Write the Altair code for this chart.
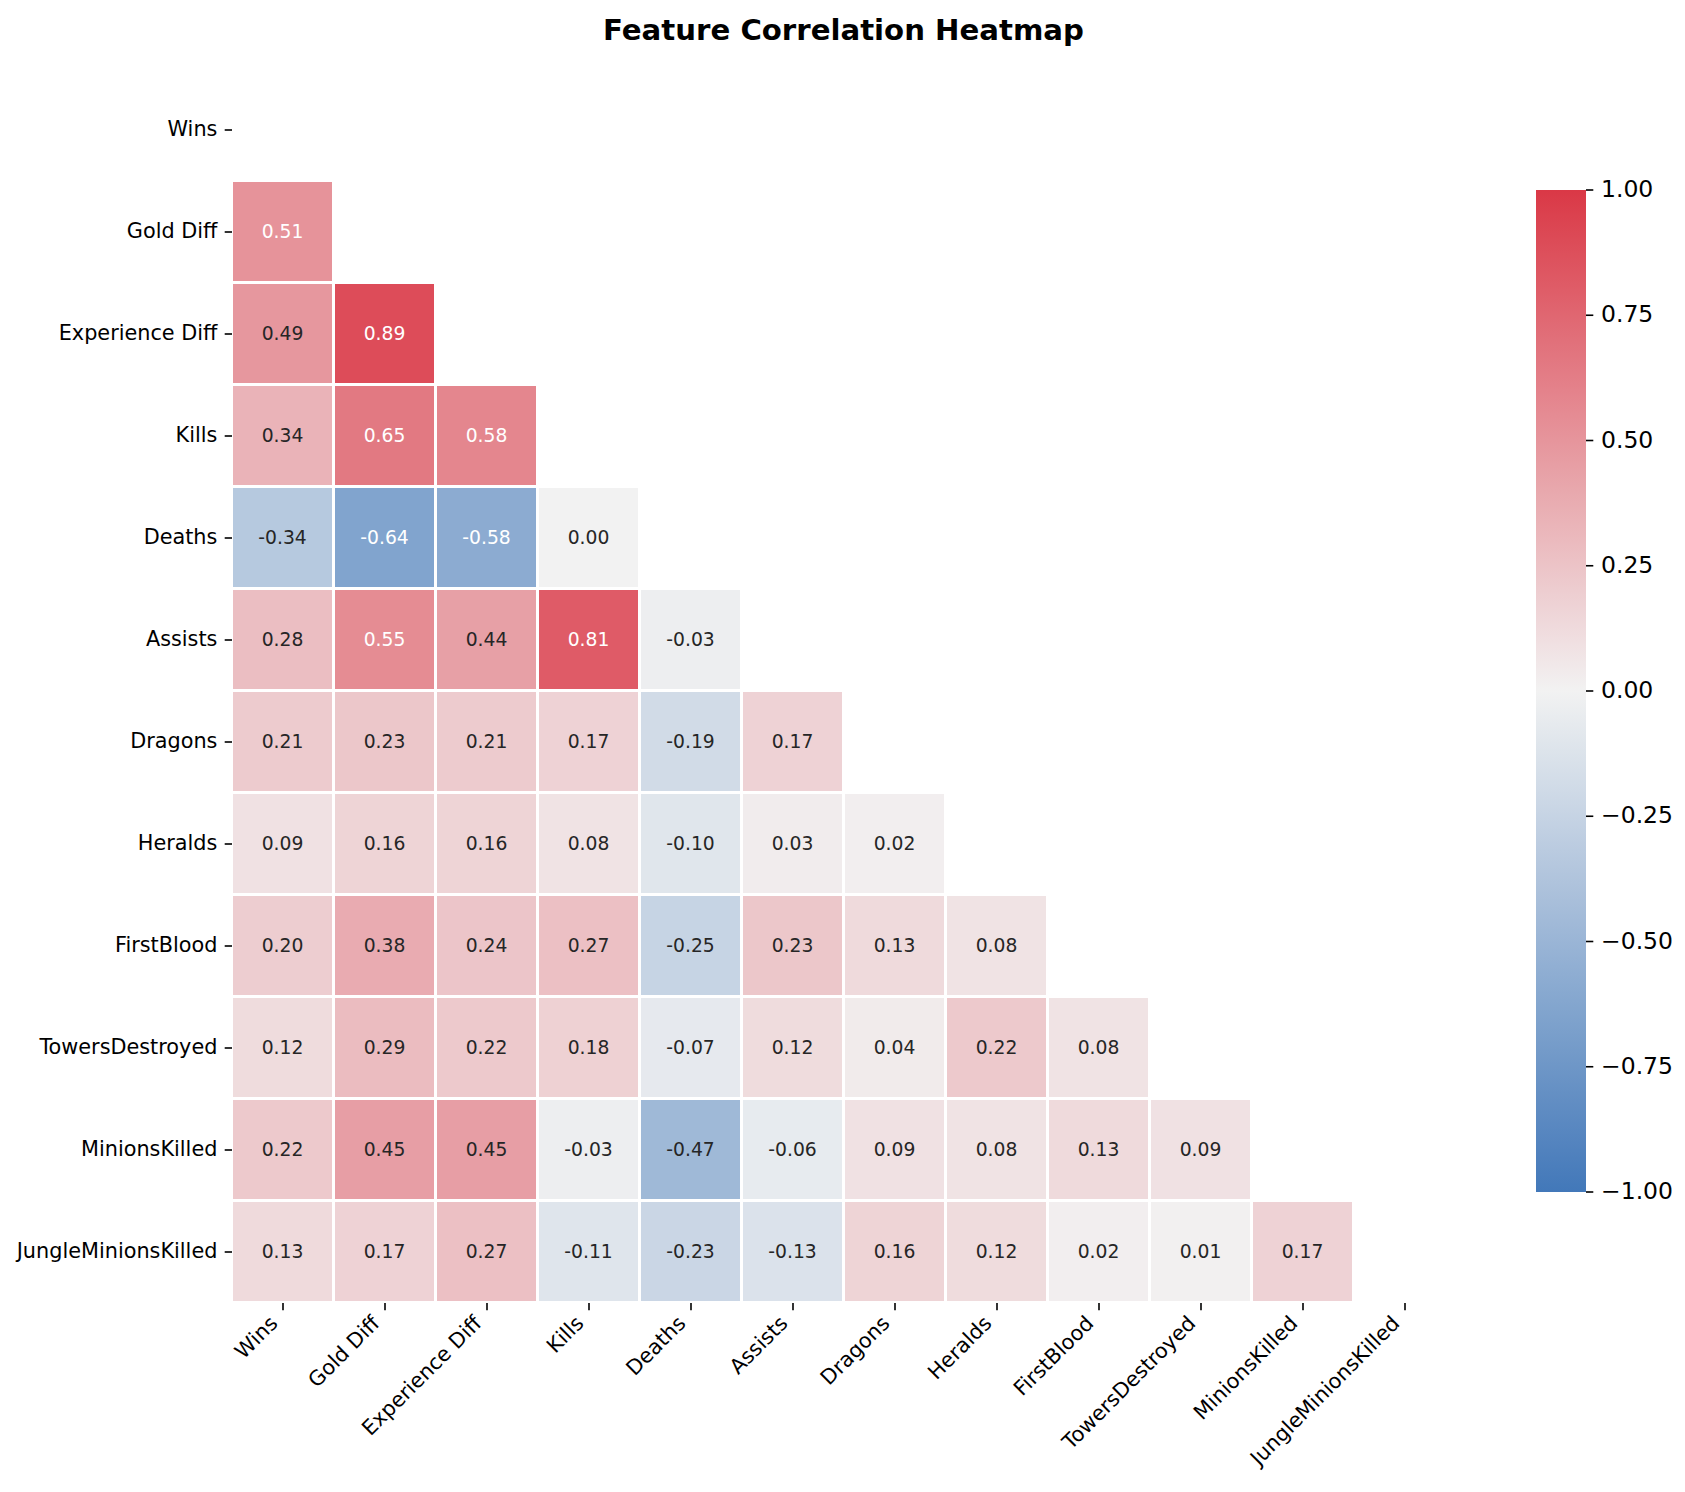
import altair as alt
import pandas as pd

features = ["Wins", "Gold Diff", "Experience Diff", "Kills", "Deaths", "Assists",
            "Dragons", "Heralds", "FirstBlood", "TowersDestroyed", "MinionsKilled",
            "JungleMinionsKilled"]

# lower-triangle correlations, one list per row (values for columns left of the diagonal)
wins_row = []
gold_diff_row = [0.51]
experience_diff_row = [0.49, 0.89]
kills_row = [0.34, 0.65, 0.58]
deaths_row = [-0.34, -0.64, -0.58, 0.00]
assists_row = [0.28, 0.55, 0.44, 0.81, -0.03]
dragons_row = [0.21, 0.23, 0.21, 0.17, -0.19, 0.17]
heralds_row = [0.09, 0.16, 0.16, 0.08, -0.10, 0.03, 0.02]
firstblood_row = [0.20, 0.38, 0.24, 0.27, -0.25, 0.23, 0.13, 0.08]
towers_row = [0.12, 0.29, 0.22, 0.18, -0.07, 0.12, 0.04, 0.22, 0.08]
minions_row = [0.22, 0.45, 0.45, -0.03, -0.47, -0.06, 0.09, 0.08, 0.13, 0.09]
jungle_row = [0.13, 0.17, 0.27, -0.11, -0.23, -0.13, 0.16, 0.12, 0.02, 0.01, 0.17]

rows = [wins_row, gold_diff_row, experience_diff_row, kills_row, deaths_row, assists_row,
        dragons_row, heralds_row, firstblood_row, towers_row, minions_row, jungle_row]

# colorbar tick values
colorbar_ticks = [-1.0, -0.75, -0.5, -0.25, 0.0, 0.25, 0.5, 0.75, 1.0]
# legend label values (ends nudged a hair inside so labels stay centred on the ends)
legend_values = [-0.9999, -0.75, -0.5, -0.25, 0.0, 0.25, 0.5, 0.75, 0.9999]

records = []
for i, rname in enumerate(features):
    for j, v in enumerate(rows[i]):
        records.append({"row": rname, "col": features[j], "value": v, "label": f"{v:.2f}"})
df = pd.DataFrame(records)
ticks_df = pd.DataFrame({"cbtick": colorbar_ticks})

FONT = "DejaVu Sans"
W = 1224
PAD_L, PAD_T = 231.5, 78.5
CB_TOP, CB_BOTTOM, CB_LEFT, CB_RIGHT = 190 - PAD_T, 1192 - PAD_T, 1536 - PAD_L, 1586 - PAD_L

band = dict(domain=features, paddingInner=0, paddingOuter=0)

x_axis = alt.Axis(labelAngle=-45, labelAlign="right", labelBaseline="top",
                  labelOffset=-15, labelPadding=3, tickSize=7.3, tickWidth=1.6,
                  tickColor="black", domain=False, grid=False, labelFont=FONT,
                  labelFontSize=20.8, labelColor="black", labelOverlap=False,
                  labelLimit=0, title=None)
y_axis = alt.Axis(labelPadding=7.3, tickSize=7.3, tickWidth=1.6, tickColor="black",
                  domain=False, grid=False, labelFont=FONT, labelFontSize=20.8,
                  labelColor="black", labelOverlap=False, labelLimit=0, title=None,
                  labelBaseline="middle", orient="left")

base = alt.Chart(df).encode(
    x=alt.X("col:N", scale=alt.Scale(**band), axis=x_axis),
    y=alt.Y("row:N", scale=alt.Scale(**band), axis=y_axis),
)

rect = base.mark_rect(stroke="white", strokeWidth=3).encode(
    color=alt.Color(
        "value:Q",
        scale=alt.Scale(domain=[-1, 0, 1], range=["#4278b9", "#f2f2f2", "#da3846"],
                        interpolate="rgb"),
        legend=alt.Legend(orient="none", legendX=CB_LEFT, legendY=CB_TOP,
                          direction="vertical", gradientLength=CB_BOTTOM - CB_TOP,
                          gradientThickness=CB_RIGHT - CB_LEFT, values=legend_values,
                          format=".2f", labelFont=FONT, labelFontSize=23.5,
                          labelColor="black", labelOffset=15, labelBaseline="middle",
                          labelOverlap=False, gradientStrokeWidth=0, title=None,
                          padding=0),
    )
)

text = base.mark_text(font=FONT, fontSize=18.75, baseline="middle", align="center").encode(
    text=alt.Text("label:N"),
    color=alt.condition("abs(datum.value) >= 0.5", alt.value("white"), alt.value("#262626")),
)

# small tick marks on the right edge of the colorbar
cb_ticks = alt.Chart(ticks_df).mark_rule(color="black", strokeWidth=1.6).encode(
    y=alt.Y("cbtick:Q", scale=alt.Scale(domain=[-1, 1], rangeMin=CB_BOTTOM,
                                        rangeMax=CB_TOP, nice=False, zero=False),
            axis=None),
    x=alt.value(CB_RIGHT),
    x2=alt.value(CB_RIGHT + 7.3),
)

text_noaxis = text.encode(
    y=alt.Y("row:N", scale=alt.Scale(**band), axis=None),
)

chart = alt.layer(rect, text_noaxis, cb_ticks).resolve_scale(y="independent").properties(
    width=W, height=W,
    background="white",
    title=alt.TitleParams("Feature Correlation Heatmap", font=FONT, fontSize=29.2,
                          fontWeight="bold", color="black", anchor="middle",
                          frame="group", baseline="alphabetic", offset=9),
    autosize=alt.AutoSizeParams(type="none"),
    padding={"left": PAD_L, "top": PAD_T, "right": 1685 - PAD_L - W,
             "bottom": 1492 - PAD_T - W},
).configure_view(stroke=None)

chart.save("out.html", embed_options={"renderer": "svg", "actions": False})
